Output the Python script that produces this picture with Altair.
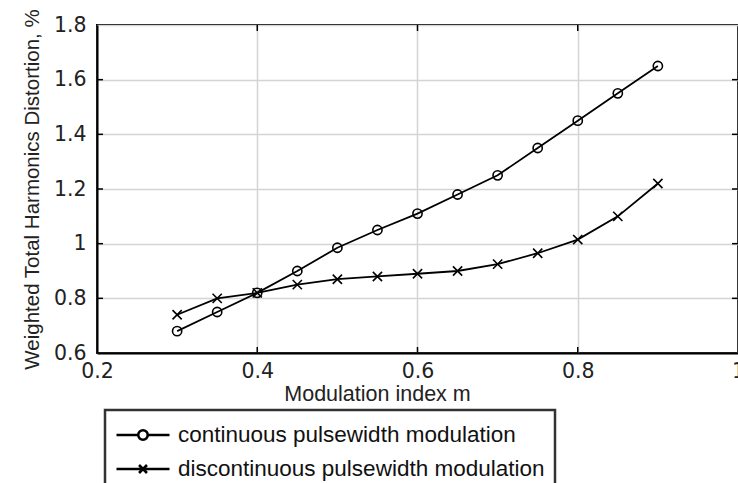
import altair as alt
import pandas as pd

# ---- data ----
m_values = [0.30, 0.35, 0.40, 0.45, 0.50, 0.55, 0.60, 0.65, 0.70, 0.75, 0.80, 0.85, 0.90]
continuous_wthd = [0.68, 0.75, 0.82, 0.90, 0.985, 1.05, 1.11, 1.18, 1.25, 1.35, 1.45, 1.55, 1.65]
discontinuous_wthd = [0.74, 0.80, 0.82, 0.85, 0.87, 0.88, 0.89, 0.90, 0.925, 0.965, 1.015, 1.10, 1.22]
series_names = ["continuous pulsewidth modulation", "discontinuous pulsewidth modulation"]
x_ticks = [0.2, 0.4, 0.6, 0.8, 1.0]
y_ticks = [0.6, 0.8, 1.0, 1.2, 1.4, 1.6, 1.8]
x_inner_ticks = [0.4, 0.6, 0.8]
y_inner_ticks = [0.8, 1.0, 1.2, 1.4, 1.6]

W, H = 641, 328
TICK = 6

rows = []
for name, vals in zip(series_names, [continuous_wthd, discontinuous_wthd]):
    for mv, v in zip(m_values, vals):
        rows.append({"m": mv, "wthd": v, "series": name})
df = pd.DataFrame(rows)
df_xt = pd.DataFrame({"m": x_inner_ticks})
df_yt = pd.DataFrame({"wthd": y_inner_ticks})

xs = alt.Scale(domain=[0.2, 1.0], nice=False, zero=False)
ys = alt.Scale(domain=[0.6, 1.8], nice=False, zero=False)

common_axis = dict(
    grid=True, gridColor="#d4d4d4", gridWidth=1.5,
    domain=True, domainColor="black", domainWidth=2,
    ticks=False, tickSize=0,
    labelFont="DejaVu Sans", labelFontSize=20.5, labelColor="#222222",
    titleFont="Liberation Sans", titleFontWeight="normal",
    titleColor="#222222", format="~g",
)
x_axis = alt.Axis(values=x_ticks, title="Modulation index m", labelPadding=8,
                  titlePadding=2, labelFlush=False, titleX=280, titleFontSize=21.5,
                  **common_axis)
y_axis = alt.Axis(values=y_ticks, title="Weighted Total Harmonics Distortion, %",
                  labelPadding=11, titlePadding=11, labelFlush=False, titleFontSize=20.5,
                  **common_axis)

X = alt.X("m:Q", scale=xs, axis=x_axis)
Y = alt.Y("wthd:Q", scale=ys, axis=y_axis)

x_marker_path = "M-1,-1L1,1M-1,1L1,-1"
leg_circle_path = ("M-1,0L-0.18,0M0.18,0L1,0"
                   "M0.18,0A0.18,0.18 0 1,1 -0.18,0A0.18,0.18 0 1,1 0.18,0")
leg_x_path = "M-1,0L1,0M-0.15,-0.15L0.15,0.15M-0.15,0.15L0.15,-0.15"

lines = alt.Chart(df).mark_line(color="black", strokeWidth=1.8).encode(
    x=X, y=Y, detail="series:N"
)

markers = alt.Chart(df).mark_point(
    color="black", filled=False, strokeWidth=1.6, size=85, opacity=1
).encode(
    x=X, y=Y,
    shape=alt.Shape("series:N",
                    scale=alt.Scale(domain=series_names, range=["circle", x_marker_path]),
                    legend=None),
)

legend_layer = alt.Chart(df).mark_point(
    color="black", filled=False, opacity=0
).encode(
    x=X, y=Y,
    shape=alt.Shape(
        "series:N",
        scale=alt.Scale(domain=series_names, range=[leg_circle_path, leg_x_path]),
        legend=alt.Legend(
            title=None, orient="none", legendX=8, legendY=385,
            symbolSize=2809, symbolStrokeColor="black", symbolStrokeWidth=2.6,
            symbolFillColor="transparent", symbolOpacity=1,
            labelFont="Liberation Sans", labelFontSize=22.5, labelColor="#111111",
            labelLimit=600, labelOffset=7, clipHeight=30, rowPadding=4, padding=10,
            strokeColor="#333333",
        ),
    ),
)

bottom_ticks = alt.Chart(df_xt).mark_rule(color="black", strokeWidth=1.5).encode(
    x=X, y=alt.value(H), y2=alt.value(H - TICK)
)
top_ticks = alt.Chart(df_xt).mark_rule(color="black", strokeWidth=1.5).encode(
    x=X, y=alt.value(0), y2=alt.value(TICK)
)
left_ticks = alt.Chart(df_yt).mark_rule(color="black", strokeWidth=1.5).encode(
    y=Y, x=alt.value(0), x2=alt.value(TICK)
)
right_ticks = alt.Chart(df_yt).mark_rule(color="black", strokeWidth=1.5).encode(
    y=Y, x=alt.value(W), x2=alt.value(W - TICK)
)

chart = alt.layer(
    lines, markers, legend_layer, bottom_ticks, top_ticks, left_ticks, right_ticks
).resolve_scale(
    shape="independent"
).properties(
    width=W, height=H,
    padding={"left": 97, "top": 25, "right": 0, "bottom": 130},
    autosize=alt.AutoSizeParams(type="none"),
    background="white",
).configure_view(
    stroke="black", strokeWidth=2
).configure_legend(
    strokeWidth=2.5
)

chart.save("out.html", embed_options={"renderer": "svg", "actions": False})
